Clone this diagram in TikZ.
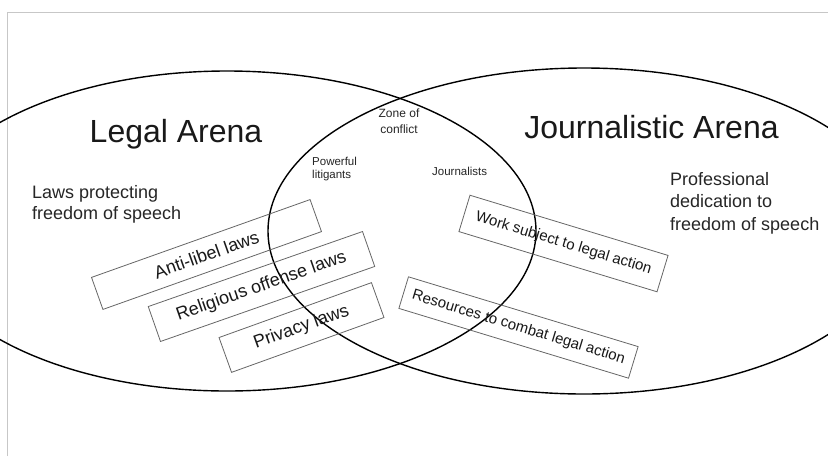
\documentclass[tikz,border=0pt]{standalone}
\usepackage{fontspec}
\setmainfont{Liberation Sans}
\usetikzlibrary{shapes.geometric}
\begin{document}
\begin{tikzpicture}[x=1pt,y=-1pt,
  arena/.style={ellipse, draw=black, line width=1.4pt, inner sep=0pt, outer sep=0pt},
  lawbox/.style={draw=black!60, line width=0.8pt, inner sep=1pt, text=black!90,
    font=\fontsize{18}{21}\selectfont},
  jbox/.style={draw=black!60, line width=0.8pt, inner sep=1pt, text=black!90,
    font=\fontsize{15}{18}\selectfont},
  title/.style={font=\fontsize{32}{38}\selectfont, anchor=base, text=black!90, inner sep=0pt},
  note/.style={align=left, anchor=base west, text=black!85, inner sep=0pt},
  smalllbl/.style={font=\fontsize{11.5}{13}\selectfont, text=black!85, inner sep=0pt}]
\useasboundingbox (0,0) rectangle (828,456);
\clip (0,0) rectangle (828,456);
\fill[white] (0,0) rectangle (828,456);
\draw[black!22, line width=1pt] (7,456) -- (7,12) -- (828,12);

% arenas
\node[arena, minimum width=618pt, minimum height=320pt] (legal) at (227,231) {};
\node[arena, minimum width=632pt, minimum height=326pt] (journ) at (584,231) {};

% titles
\node[title] (legalt) at (176,142) {Legal Arena};
\node[title] (journt) at (651.5,138) {Journalistic Arena};

% notes (anchor = baseline of last line)
\node[note, font=\fontsize{18}{21}\selectfont] (lawsp) at (32,219) {Laws protecting\\freedom of speech};
\node[note, font=\fontsize{18}{22.5}\selectfont] (profd) at (670,230) {Professional\\dedication to\\freedom of speech};

% zone labels
\node[smalllbl, font=\fontsize{12}{16}\selectfont, align=center, anchor=base] (zone) at (399,133) {Zone of\\conflict};
\node[smalllbl, align=left, anchor=base west] (litig) at (312,178) {Powerful\\litigants};
\node[smalllbl, anchor=base west] (jour) at (432,175) {Journalists};

% law boxes
\node[lawbox, rotate=19.6, minimum width=232pt, minimum height=34pt] (antilibel) at (206.5,254.5) {Anti-libel laws\hspace{31pt}};
\node[lawbox, rotate=19.3, minimum width=227pt, minimum height=37pt] (relig) at (261.5,286.5) {Religious offense laws};
\node[lawbox, rotate=19.8, minimum width=162pt, minimum height=37pt] (privacy) at (301.5,327.5) {Privacy laws};

% journalist boxes
\node[jbox, rotate=-16.9, minimum width=207pt, minimum height=38pt] (work) at (563.5,243.5) {Work subject to legal action};
\node[jbox, rotate=-16.9, minimum width=240pt, minimum height=33pt] (resources) at (518.5,327.5) {Resources to combat legal action};
\end{tikzpicture}
\end{document}
